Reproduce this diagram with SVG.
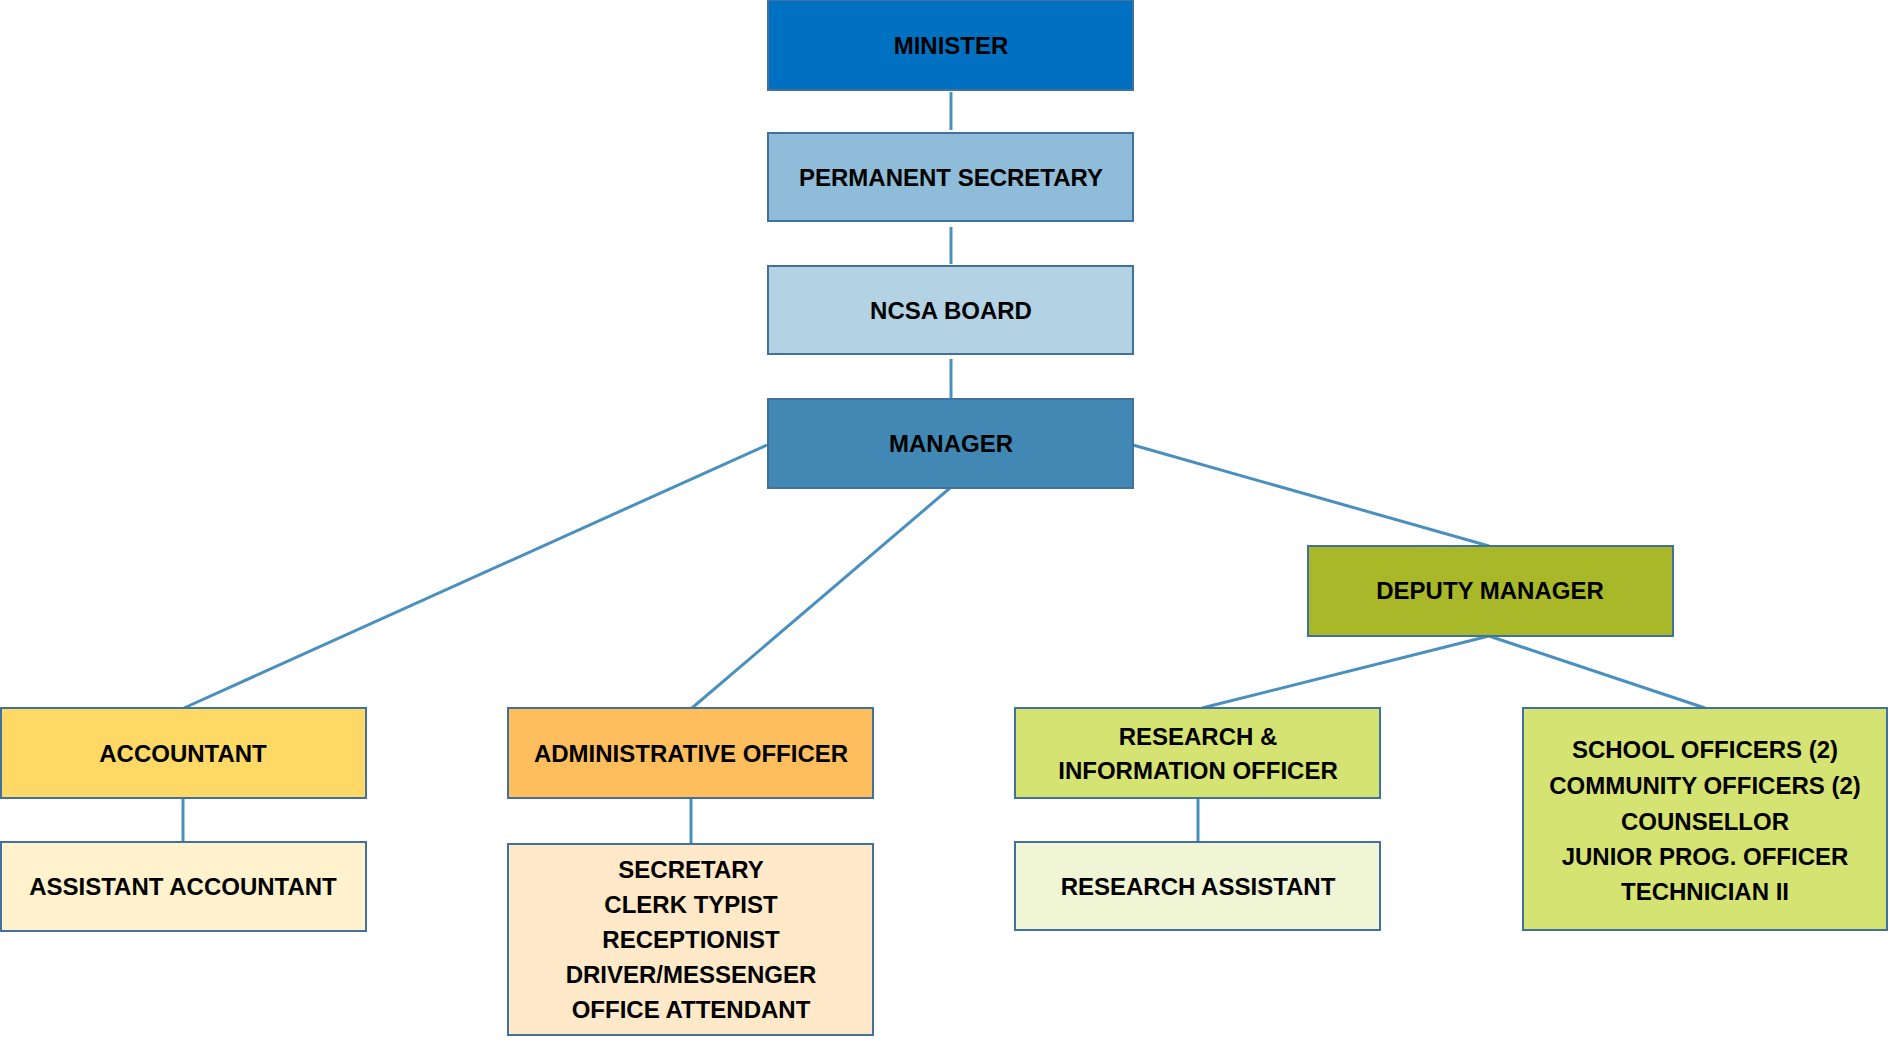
<svg xmlns="http://www.w3.org/2000/svg" width="1888" height="1045" viewBox="0 0 1888 1045">
<style>
.b{stroke:#41719C;stroke-width:2}
.t{font-family:"Liberation Sans",Arial,sans-serif;font-weight:bold;font-size:24px;fill:#000;text-anchor:middle}
.c{stroke:#4A90BE;stroke-width:3;fill:none}
</style>
<rect width="1888" height="1045" fill="#fff"/>
<g id="connectors">
<line class="c" x1="951" y1="92" x2="951" y2="130"/>
<line class="c" x1="951" y1="227" x2="951" y2="264"/>
<line class="c" x1="951" y1="359" x2="951" y2="398"/>
<line class="c" x1="767" y1="445" x2="184" y2="708"/>
<line class="c" x1="950" y1="488" x2="692" y2="708"/>
<line class="c" x1="1133" y1="445" x2="1489" y2="546"/>
<line class="c" x1="1489" y1="636" x2="1202" y2="708"/>
<line class="c" x1="1489" y1="636" x2="1705" y2="708"/>
<line class="c" x1="183" y1="798" x2="183" y2="845"/>
<line class="c" x1="691" y1="798" x2="691" y2="844"/>
<line class="c" x1="1198" y1="798" x2="1198" y2="842"/>
</g>
<g id="minister"><rect class="b" x="768" y="0" width="365" height="90" fill="#0070C0"/><text class="t" x="951" y="54">MINISTER</text></g>
<g id="permanent-secretary"><rect class="b" x="768" y="133" width="365" height="88" fill="#8FBCD8"/><text class="t" x="951" y="186">PERMANENT SECRETARY</text></g>
<g id="ncsa-board"><rect class="b" x="768" y="266" width="365" height="88" fill="#B3D2E4"/><text class="t" x="951" y="319">NCSA BOARD</text></g>
<g id="manager"><rect class="b" x="768" y="399" width="365" height="89" fill="#4189B4"/><text class="t" x="951" y="452">MANAGER</text></g>
<g id="deputy-manager"><rect class="b" x="1308" y="546" width="365" height="90" fill="#A9B828"/><text class="t" x="1490" y="599">DEPUTY MANAGER</text></g>
<g id="accountant"><rect class="b" x="1" y="708" width="365" height="90" fill="#FFD966"/><text class="t" x="183" y="762">ACCOUNTANT</text></g>
<g id="assistant-accountant"><rect class="b" x="1" y="842" width="365" height="89" fill="#FFF2CC"/><text class="t" x="183" y="895">ASSISTANT ACCOUNTANT</text></g>
<g id="administrative-officer"><rect class="b" x="508" y="708" width="365" height="90" fill="#FFBE5E"/><text class="t" x="691" y="762">ADMINISTRATIVE OFFICER</text></g>
<g id="admin-staff"><rect class="b" x="508" y="844" width="365" height="191" fill="#FFE9C8"/>
<text class="t" x="691" y="878">SECRETARY</text>
<text class="t" x="691" y="913">CLERK TYPIST</text>
<text class="t" x="691" y="948">RECEPTIONIST</text>
<text class="t" x="691" y="983">DRIVER/MESSENGER</text>
<text class="t" x="691" y="1018">OFFICE ATTENDANT</text></g>
<g id="research-officer"><rect class="b" x="1015" y="708" width="365" height="90" fill="#D5E372"/>
<text class="t" x="1198" y="745">RESEARCH &amp;</text>
<text class="t" x="1198" y="779">INFORMATION OFFICER</text></g>
<g id="research-assistant"><rect class="b" x="1015" y="842" width="365" height="88" fill="#F0F5D6"/><text class="t" x="1198" y="895">RESEARCH ASSISTANT</text></g>
<g id="field-officers"><rect class="b" x="1523" y="708" width="364" height="222" fill="#D5E372"/>
<text class="t" x="1705" y="758">SCHOOL OFFICERS (2)</text>
<text class="t" x="1705" y="794">COMMUNITY OFFICERS (2)</text>
<text class="t" x="1705" y="830">COUNSELLOR</text>
<text class="t" x="1705" y="865">JUNIOR PROG. OFFICER</text>
<text class="t" x="1705" y="900">TECHNICIAN II</text></g>
</svg>
